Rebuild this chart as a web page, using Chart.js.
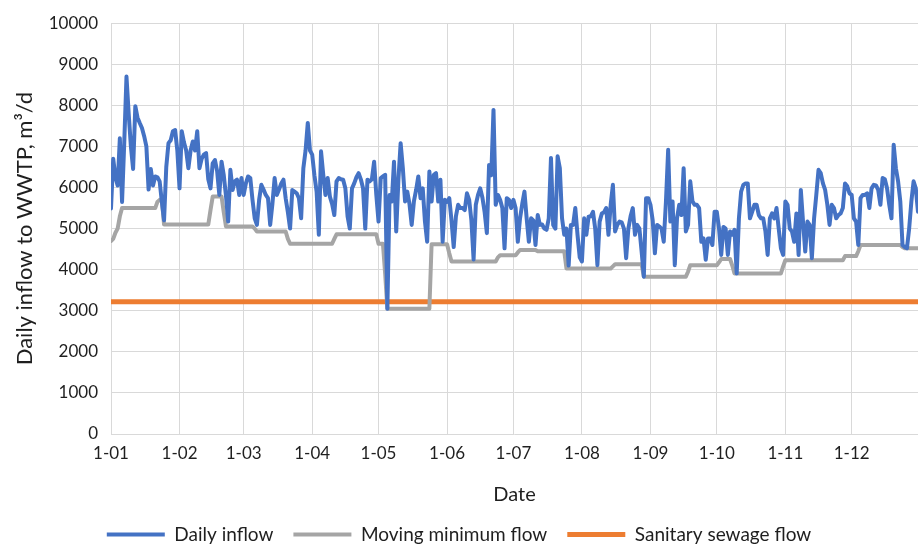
<!DOCTYPE html>
<html>
<head>
<meta charset="utf-8">
<script src="https://cdn.jsdelivr.net/npm/chart.js@4.4.1/dist/chart.umd.min.js"></script>
<style>
  html, body { margin: 0; padding: 0; background: #fff; overflow: hidden; }
  #wrap { width: 920px; height: 554px; position: relative; }
</style>
</head>
<body>
<div id="wrap"><canvas id="flowChart"></canvas></div>
<script>
// tick labels on the date axis and the day index (0 = 1 Jan, leap year) where each month starts
const monthLabels = ['1-01', '1-02', '1-03', '1-04', '1-05', '1-06', '1-07', '1-08', '1-09', '1-10', '1-11', '1-12'];
const monthStartDays = [0, 31, 60, 91, 121, 152, 182, 213, 244, 274, 305, 335];
const lastDay = 365;

// daily inflow to WWTP, m3/d - one line per month
const dailyInflow = [
  5490, 6700, 6250, 6050, 7200, 5650, 7100, 8700, 7800, 7000, 6450, 7980, 7700, 7570, 7450, 7250, 7000, 5950, 6450, 6050, 6270, 6250, 6150, 5650, 5200, 6500, 7080, 7150, 7370, 7400, 6900,
  5980, 7370, 7100, 6900, 6470, 6900, 7120, 6900, 7370, 6470, 6700, 6800, 6840, 6200, 5980, 6590, 6670, 6400, 5820, 6630, 6300, 5800, 5170, 6430, 5940, 6150, 6190, 5820, 6230,
  5820, 6100, 6270, 6230, 5700, 5250, 5090, 5700, 6065, 5950, 5820, 5740, 5090, 5600, 6230, 5820, 5950, 6100, 6190, 5740, 5400, 5000, 5940, 5900, 5860, 5740, 5250, 6470, 6900, 7570, 6900,
  6800, 6300, 5900, 4850, 6880, 6310, 5820, 6230, 5780, 5600, 5330, 6150, 6230, 6200, 6190, 5980, 5300, 5000, 5980, 6100, 6250, 6350, 6200, 5980, 5000, 6190, 6150, 6200, 6630, 5820,
  5170, 6230, 6270, 6310, 3050, 5820, 5660, 6630, 4930, 6200, 7080, 6470, 5660, 5900, 5600, 5090, 5660, 5940, 6270, 5740, 5980, 5170, 4680, 6390, 5660, 6310, 6350, 5660, 6190, 4680, 5700,
  5650, 5740, 5200, 4550, 5300, 5580, 5500, 5500, 5450, 5860, 5700, 5200, 4250, 5580, 5820, 5980, 5750, 5400, 4890, 6550, 6300, 7890, 5580, 5820, 5700, 5500, 4520, 5740, 5700, 5500,
  5700, 5500, 4680, 5250, 5600, 5900, 5250, 4680, 5250, 5200, 4600, 5330, 5090, 5100, 5000, 4970, 5250, 6720, 5090, 5000, 6760, 6470, 5250, 4850, 5000, 4100, 5090, 5090, 5500, 4850, 4300,
  4200, 5250, 4850, 5290, 5300, 5410, 5000, 4110, 5170, 5370, 5400, 5500, 4850, 5580, 6065, 4930, 5090, 5170, 5150, 5000, 4280, 5000, 5300, 5500, 4850, 5090, 5000, 4440, 3830, 5740, 5740,
  5580, 5200, 4400, 5090, 5050, 5000, 4680, 5660, 6920, 5170, 5660, 4110, 5250, 5580, 5330, 6470, 4930, 5090, 6150, 5660, 5580, 5580, 5500, 4680, 4760, 4240, 4760, 4760, 4600, 5410,
  5410, 5000, 4360, 5040, 5000, 4360, 4930, 4850, 4970, 3910, 5250, 5900, 6065, 6100, 6100, 5250, 5410, 5580, 5580, 5330, 5250, 5250, 4930, 4360, 5250, 5370, 5250, 5500, 5000, 4520, 4360,
  5660, 5580, 5000, 4930, 4680, 5370, 4360, 5940, 5170, 4440, 5170, 5090, 4280, 5250, 5820, 6430, 6350, 6100, 5940, 5580, 5090, 5580, 5500, 5250, 5330, 5370, 5500, 6100, 6030, 5860,
  5820, 5250, 5170, 4600, 5740, 5820, 5820, 5860, 5500, 5980, 6065, 6050, 5940, 5580, 6230, 6200, 5980, 5580, 5250, 7040, 6470, 6150, 5660, 4600, 4550, 4520, 5000, 5660, 6150, 5980, 5410
];

// moving minimum flow, m3/d - one line per month
const movingMinimum = [
  4700, 4750, 4900, 5000, 5300, 5500, 5500, 5500, 5500, 5500, 5500, 5500, 5500, 5500, 5500, 5500, 5500, 5500, 5500, 5500, 5500, 5650, 5700, 5700, 5100, 5100, 5100, 5100, 5100, 5100, 5100,
  5100, 5100, 5100, 5100, 5100, 5100, 5100, 5100, 5100, 5100, 5100, 5100, 5100, 5100, 5450, 5780, 5780, 5780, 5780, 5780, 5400, 5050, 5050, 5050, 5050, 5050, 5050, 5050, 5050,
  5050, 5050, 5050, 5050, 5050, 5000, 4930, 4930, 4930, 4930, 4930, 4930, 4930, 4930, 4930, 4930, 4930, 4930, 4930, 4930, 4750, 4630, 4630, 4630, 4630, 4630, 4630, 4630, 4630, 4630, 4630,
  4630, 4630, 4630, 4630, 4630, 4630, 4630, 4630, 4630, 4630, 4750, 4860, 4860, 4860, 4860, 4860, 4860, 4860, 4860, 4860, 4860, 4860, 4860, 4860, 4860, 4860, 4860, 4860, 4860, 4860,
  4630, 4630, 4630, 3900, 3050, 3050, 3050, 3050, 3050, 3050, 3050, 3050, 3050, 3050, 3050, 3050, 3050, 3050, 3050, 3050, 3050, 3050, 3050, 3050, 4620, 4620, 4620, 4620, 4620, 4620, 4620,
  4620, 4400, 4200, 4200, 4200, 4200, 4200, 4200, 4200, 4200, 4200, 4200, 4200, 4200, 4200, 4200, 4200, 4200, 4200, 4200, 4200, 4200, 4200, 4300, 4350, 4350, 4350, 4350, 4350, 4350,
  4350, 4350, 4420, 4480, 4480, 4480, 4480, 4480, 4480, 4480, 4480, 4450, 4450, 4450, 4450, 4450, 4450, 4450, 4450, 4450, 4450, 4450, 4450, 4450, 4030, 4030, 4030, 4030, 4030, 4030, 4030,
  4030, 4030, 4030, 4030, 4030, 4030, 4030, 4030, 4030, 4030, 4030, 4030, 4030, 4030, 4080, 4130, 4130, 4130, 4130, 4130, 4130, 4130, 4130, 4130, 4130, 4130, 4130, 4130, 3830, 3830, 3830,
  3830, 3830, 3830, 3830, 3830, 3830, 3830, 3830, 3830, 3830, 3830, 3830, 3830, 3830, 3830, 3830, 3830, 3950, 4110, 4110, 4110, 4110, 4110, 4110, 4110, 4110, 4110, 4110, 4110, 4110,
  4110, 4180, 4260, 4260, 4260, 4260, 4260, 4100, 3910, 3910, 3910, 3910, 3910, 3910, 3910, 3910, 3910, 3910, 3910, 3910, 3910, 3910, 3910, 3910, 3910, 3910, 3910, 3910, 3910, 3910, 4080,
  4230, 4230, 4230, 4230, 4230, 4230, 4230, 4230, 4230, 4230, 4230, 4230, 4230, 4230, 4230, 4230, 4230, 4230, 4230, 4230, 4230, 4230, 4230, 4230, 4230, 4230, 4230, 4330, 4330, 4330,
  4330, 4330, 4330, 4450, 4600, 4600, 4600, 4600, 4600, 4600, 4600, 4600, 4600, 4600, 4600, 4600, 4600, 4600, 4600, 4600, 4600, 4600, 4600, 4550, 4520, 4520, 4520, 4520, 4520, 4520, 4520
];

// sanitary sewage flow is a constant level over the whole year
const sanitaryFlow = 3220;

const fontFamily = 'Lato, "Open Sans", sans-serif';
const textColor = '#1f1f1f';
const gridColor = '#d9d9d9';

const toPoints = (values) => values.map((v, i) => ({ x: i, y: v }));

const ctx = document.getElementById('flowChart').getContext('2d');
const flowChart = new Chart(ctx, {
    type: 'line',
    data: {
        datasets: [
            {
                label: 'Daily inflow',
                data: toPoints(dailyInflow),
                borderColor: '#4472C4',
                backgroundColor: '#4472C4',
                borderWidth: 4
            },
            {
                label: 'Moving minimum flow',
                data: toPoints(movingMinimum),
                borderColor: '#A5A5A5',
                backgroundColor: '#A5A5A5',
                borderWidth: 4
            },
            {
                label: 'Sanitary sewage flow',
                data: [{ x: 0, y: sanitaryFlow }, { x: lastDay, y: sanitaryFlow }],
                borderColor: '#ED7D31',
                backgroundColor: '#ED7D31',
                borderWidth: 5
            }
        ]
    },
    options: {
        responsive: true,
        maintainAspectRatio: false,
        animation: false,
        layout: { padding: { top: 22, right: 2, left: 0, bottom: 0 } },
        elements: {
            point: { radius: 0, hoverRadius: 0 },
            line: { tension: 0, borderCapStyle: 'round', borderJoinStyle: 'round' }
        },
        plugins: {
            tooltip: { enabled: false },
            legend: {
                display: true,
                position: 'bottom',
                labels: {
                    usePointStyle: true,
                    pointStyle: 'line',
                    pointStyleWidth: 58,
                    padding: 20,
                    color: textColor,
                    font: { family: fontFamily, size: 19 }
                }
            }
        },
        scales: {
            x: {
                type: 'linear',
                min: 0,
                max: lastDay,
                afterBuildTicks: (axis) => {
                    axis.ticks = monthStartDays.map(d => ({ value: d }));
                },
                afterFit: (axis) => { axis.height = 71; },
                ticks: {
                    autoSkip: false,
                    maxRotation: 0,
                    padding: 9,
                    color: textColor,
                    font: { family: fontFamily, size: 17 },
                    callback: (value, index) => monthLabels[index]
                },
                grid: { color: gridColor, lineWidth: 1, drawTicks: false },
                border: { display: false },
                title: {
                    display: true,
                    text: 'Date',
                    color: textColor,
                    font: { family: fontFamily, size: 20, lineHeight: 1.05 },
                    padding: { top: 0, bottom: 0 }
                }
            },
            y: {
                min: 0,
                max: 10000,
                afterFit: (axis) => { axis.width = 111; },
                ticks: {
                    stepSize: 1000,
                    padding: 13,
                    color: textColor,
                    font: { family: fontFamily, size: 17 },
                    callback: (value) => String(value)
                },
                grid: { color: gridColor, lineWidth: 1, drawTicks: false },
                border: { display: false },
                title: {
                    display: true,
                    text: 'Daily inflow to WWTP, m³/d',
                    color: textColor,
                    font: { family: fontFamily, size: 22 },
                    padding: { top: 12, bottom: 0 }
                }
            }
        }
    }
});
</script>
</body>
</html>
